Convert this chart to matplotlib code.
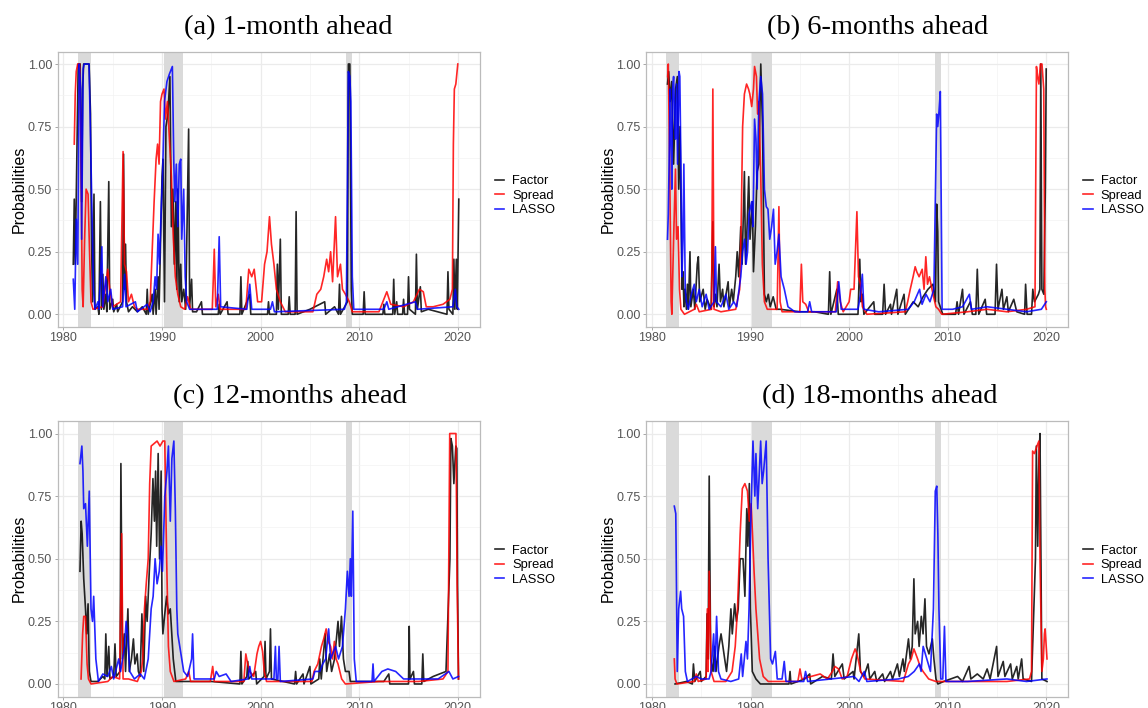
"""
Recession probabilities at four forecast horizons (Factor / Spread / LASSO).
ggplot-style theme_bw panels drawn with plain matplotlib.
"""

import matplotlib.pyplot as plt

plt.rcParams["font.family"] = ["Liberation Sans", "DejaVu Sans"]

# --- data: (year, probability) vertices ------------------------------------
A_FACTOR = [
    (1981.0, 0.2), (1981.1, 0.46), (1981.2, 0.2), (1981.35, 0.6), (1981.5, 1.0),
    (1981.7, 1.0), (1981.85, 0.45), (1981.95, 0.9), (1982.05, 1.0), (1982.6, 1.0),
    (1982.75, 0.8), (1982.85, 0.3), (1982.95, 0.05), (1983.1, 0.48), (1983.2, 0.02),
    (1983.5, 0.03), (1983.6, 0.0), (1983.75, 0.45), (1983.85, 0.02), (1984.0, 0.16),
    (1984.1, 0.02), (1984.3, 0.08), (1984.4, 0.01), (1984.6, 0.53), (1984.7, 0.02),
    (1985.0, 0.06), (1985.1, 0.01), (1985.4, 0.04), (1985.5, 0.01), (1986.0, 0.05),
    (1986.1, 0.64), (1986.2, 0.1), (1986.3, 0.28), (1986.4, 0.05), (1986.6, 0.01),
    (1987.0, 0.03), (1987.5, 0.01), (1988.0, 0.03), (1988.4, 0.0), (1988.5, 0.1),
    (1988.6, 0.0), (1989.0, 0.08), (1989.1, 0.0), (1989.3, 0.1), (1989.4, 0.0),
    (1989.6, 0.15), (1989.7, 0.02), (1990.0, 0.55), (1990.1, 0.62), (1990.25, 0.05),
    (1990.4, 0.75), (1990.6, 0.8), (1990.8, 0.95), (1990.95, 0.35), (1991.1, 0.5),
    (1991.25, 0.2), (1991.4, 0.45), (1991.5, 0.1), (1991.6, 0.5), (1991.75, 0.05),
    (1991.9, 0.2), (1992.0, 0.05), (1992.2, 0.1), (1992.4, 0.02), (1992.7, 0.74),
    (1992.8, 0.03), (1993.0, 0.14), (1993.1, 0.01), (1993.5, 0.01), (1994.0, 0.05),
    (1994.1, 0.0), (1995.7, 0.0), (1995.8, 0.04), (1995.9, 0.0), (1996.6, 0.05),
    (1996.7, 0.0), (1997.9, 0.0), (1998.0, 0.15), (1998.1, 0.0), (1998.9, 0.08),
    (1999.0, 0.0), (2000.7, 0.0), (2000.8, 0.05), (2000.9, 0.0), (2001.6, 0.0),
    (2001.7, 0.2), (2001.8, 0.02), (2002.0, 0.3), (2002.1, 0.0), (2002.8, 0.0),
    (2002.9, 0.07), (2003.0, 0.0), (2003.5, 0.0), (2003.6, 0.41), (2003.7, 0.0),
    (2005.0, 0.02), (2006.5, 0.05), (2006.6, 0.0), (2007.5, 0.03), (2007.9, 0.0),
    (2008.0, 0.12), (2008.1, 0.0), (2008.8, 0.05), (2008.9, 1.0), (2009.05, 1.0),
    (2009.2, 0.1), (2009.3, 0.0), (2010.4, 0.0), (2010.5, 0.09), (2010.6, 0.0),
    (2012.4, 0.0), (2012.5, 0.04), (2012.6, 0.0), (2013.4, 0.0), (2013.5, 0.14),
    (2013.6, 0.0), (2013.8, 0.05), (2013.9, 0.0), (2014.4, 0.0), (2014.5, 0.06),
    (2014.6, 0.0), (2014.9, 0.0), (2015.0, 0.15), (2015.1, 0.02), (2015.7, 0.0),
    (2015.8, 0.24), (2015.9, 0.02), (2016.2, 0.11), (2016.3, 0.01), (2017.0, 0.02),
    (2018.9, 0.0), (2019.0, 0.17), (2019.1, 0.02), (2019.5, 0.0), (2019.6, 0.22),
    (2019.7, 0.02), (2019.85, 0.22), (2019.95, 0.02), (2020.1, 0.46),
]
A_SPREAD = [
    (1981.1, 0.68), (1981.2, 0.88), (1981.3, 0.97), (1981.45, 1.0), (1981.65, 1.0),
    (1981.8, 0.6), (1981.9, 0.1), (1982.0, 0.03), (1982.15, 0.3), (1982.3, 0.5),
    (1982.5, 0.48), (1982.65, 0.25), (1982.8, 0.05), (1983.0, 0.02), (1984.0, 0.03),
    (1984.3, 0.12), (1984.5, 0.18), (1984.7, 0.1), (1985.0, 0.03), (1985.8, 0.05),
    (1986.05, 0.65), (1986.2, 0.2), (1986.4, 0.17), (1986.6, 0.05), (1986.9, 0.08),
    (1987.2, 0.03), (1987.5, 0.02), (1988.5, 0.02), (1988.8, 0.05), (1989.0, 0.25),
    (1989.2, 0.45), (1989.4, 0.62), (1989.55, 0.68), (1989.7, 0.6), (1989.85, 0.85),
    (1990.0, 0.88), (1990.2, 0.9), (1990.35, 0.78), (1990.55, 0.85), (1990.75, 0.7),
    (1990.95, 0.55), (1991.15, 0.3), (1991.35, 0.15), (1991.6, 0.08), (1991.9, 0.03),
    (1992.3, 0.02), (1992.6, 0.07), (1992.9, 0.02), (1995.1, 0.02), (1995.3, 0.26),
    (1995.45, 0.03), (1995.7, 0.08), (1995.9, 0.02), (1998.5, 0.02), (1998.8, 0.18),
    (1999.1, 0.15), (1999.35, 0.18), (1999.7, 0.05), (2000.1, 0.05), (2000.4, 0.2),
    (2000.65, 0.25), (2000.9, 0.39), (2001.1, 0.28), (2001.35, 0.2), (2001.6, 0.1),
    (2002.0, 0.05), (2002.5, 0.01), (2005.3, 0.01), (2005.7, 0.08), (2006.1, 0.1),
    (2006.4, 0.15), (2006.7, 0.22), (2006.9, 0.17), (2007.1, 0.25), (2007.3, 0.13),
    (2007.6, 0.39), (2007.8, 0.15), (2008.1, 0.2), (2008.3, 0.1), (2008.6, 0.08),
    (2009.0, 0.05), (2009.3, 0.01), (2012.0, 0.01), (2012.4, 0.05), (2012.8, 0.09),
    (2013.2, 0.04), (2014.5, 0.03), (2015.5, 0.05), (2016.1, 0.1), (2016.5, 0.09),
    (2016.8, 0.03), (2017.5, 0.03), (2018.5, 0.04), (2019.2, 0.06), (2019.45, 0.1),
    (2019.55, 0.68), (2019.65, 0.9), (2019.8, 0.92), (2020.0, 1.0),
]
A_LASSO = [
    (1981.0, 0.14), (1981.15, 0.02), (1981.3, 0.38), (1981.45, 0.2), (1981.6, 1.0),
    (1981.75, 0.9), (1981.85, 0.3), (1982.0, 0.98), (1982.1, 1.0), (1982.6, 1.0),
    (1982.75, 0.7), (1982.9, 0.4), (1983.05, 0.1), (1983.2, 0.02), (1983.5, 0.05),
    (1983.6, 0.02), (1983.9, 0.27), (1984.0, 0.03), (1984.3, 0.15), (1984.5, 0.05),
    (1984.8, 0.1), (1985.0, 0.02), (1986.0, 0.03), (1986.2, 0.16), (1986.35, 0.03),
    (1987.3, 0.05), (1987.5, 0.01), (1988.5, 0.04), (1988.8, 0.01), (1989.1, 0.05),
    (1989.3, 0.15), (1989.45, 0.1), (1989.6, 0.32), (1989.75, 0.2), (1989.9, 0.4),
    (1990.05, 0.55), (1990.25, 0.85), (1990.5, 0.93), (1990.75, 0.96), (1991.05, 0.99),
    (1991.2, 0.6), (1991.3, 0.45), (1991.45, 0.6), (1991.6, 0.35), (1991.75, 0.6),
    (1991.9, 0.62), (1992.0, 0.3), (1992.2, 0.5), (1992.35, 0.15), (1992.5, 0.05),
    (1992.8, 0.02), (1995.6, 0.02), (1995.8, 0.31), (1995.95, 0.03), (1998.6, 0.02),
    (1998.9, 0.12), (1999.1, 0.02), (2001.0, 0.02), (2001.2, 0.05), (2001.4, 0.01),
    (2008.5, 0.02), (2008.7, 0.05), (2008.9, 0.97), (2009.05, 0.95), (2009.15, 0.85),
    (2009.3, 0.15), (2009.45, 0.02), (2012.5, 0.02), (2012.8, 0.05), (2013.0, 0.02),
    (2015.7, 0.05), (2015.9, 0.02), (2019.5, 0.03), (2019.75, 0.1), (2019.9, 0.03),
    (2020.1, 0.02),
]

B_FACTOR = [
    (1981.58, 0.92), (1981.7, 0.97), (1981.85, 0.85), (1982.0, 0.93), (1982.2, 0.6),
    (1982.4, 0.9), (1982.58, 0.95), (1982.72, 0.5), (1982.85, 0.75), (1983.05, 0.1),
    (1983.15, 0.17), (1983.25, 0.03), (1983.35, 0.1), (1983.5, 0.02), (1983.6, 0.12),
    (1983.7, 0.02), (1983.86, 0.25), (1983.95, 0.03), (1984.2, 0.1), (1984.35, 0.02),
    (1984.6, 0.2), (1984.71, 0.23), (1984.85, 0.05), (1985.2, 0.1), (1985.4, 0.02),
    (1985.6, 0.06), (1986.0, 0.02), (1986.18, 0.37), (1986.3, 0.03), (1986.44, 0.08),
    (1986.6, 0.03), (1986.81, 0.2), (1986.95, 0.05), (1987.17, 0.1), (1987.3, 0.03),
    (1987.73, 0.13), (1987.85, 0.03), (1988.09, 0.1), (1988.25, 0.05), (1988.5, 0.15),
    (1988.65, 0.25), (1988.8, 0.15), (1989.01, 0.35), (1989.15, 0.2), (1989.38, 0.57),
    (1989.5, 0.2), (1989.65, 0.35), (1989.82, 0.55), (1989.95, 0.3), (1990.19, 0.45),
    (1990.3, 0.17), (1990.5, 0.35), (1990.67, 0.57), (1990.85, 0.6), (1991.04, 1.0),
    (1991.22, 0.75), (1991.41, 0.08), (1991.6, 0.05), (1991.8, 0.08), (1992.0, 0.03),
    (1992.3, 0.07), (1992.6, 0.02), (1993.0, 0.02), (1995.0, 0.01), (1996.5, 0.01),
    (1997.9, 0.0), (1998.03, 0.17), (1998.15, 0.0), (1998.76, 0.1), (1998.9, 0.0),
    (2000.9, 0.0), (2001.08, 0.22), (2001.2, 0.05), (2001.34, 0.08), (2001.5, 0.0),
    (2002.5, 0.05), (2002.6, 0.0), (2003.4, 0.0), (2003.55, 0.12), (2003.7, 0.0),
    (2004.2, 0.04), (2004.3, 0.0), (2004.83, 0.1), (2004.95, 0.0), (2005.57, 0.08),
    (2005.7, 0.0), (2006.5, 0.05), (2007.0, 0.03), (2007.5, 0.07), (2008.0, 0.1),
    (2008.5, 0.12), (2008.75, 0.05), (2008.88, 0.44), (2008.99, 0.33), (2009.07, 0.05),
    (2009.5, 0.0), (2010.8, 0.0), (2010.95, 0.05), (2011.1, 0.0), (2011.5, 0.1),
    (2011.65, 0.0), (2012.3, 0.05), (2012.5, 0.0), (2012.85, 0.0), (2013.0, 0.18),
    (2013.15, 0.0), (2013.8, 0.06), (2013.95, 0.0), (2014.8, 0.0), (2014.95, 0.2),
    (2015.1, 0.02), (2015.5, 0.1), (2015.65, 0.02), (2016.0, 0.07), (2016.15, 0.01),
    (2016.7, 0.06), (2017.0, 0.01), (2017.8, 0.0), (2017.9, 0.12), (2018.05, 0.0),
    (2018.5, 0.0), (2018.63, 0.1), (2018.8, 0.05), (2019.2, 0.08), (2019.35, 0.1),
    (2019.44, 1.0), (2019.55, 0.1), (2019.75, 0.08), (2019.9, 0.5), (2019.99, 0.98),
]
B_SPREAD = [
    (1981.6, 0.95), (1981.66, 1.0), (1981.8, 0.6), (1981.95, 0.05), (1982.02, 0.0),
    (1982.2, 0.3), (1982.39, 0.58), (1982.5, 0.3), (1982.65, 0.35), (1982.8, 0.1),
    (1982.94, 0.02), (1983.3, 0.0), (1984.3, 0.02), (1984.5, 0.04), (1984.8, 0.01),
    (1986.05, 0.02), (1986.18, 0.9), (1986.3, 0.02), (1987.0, 0.01), (1988.5, 0.02),
    (1988.9, 0.1), (1989.05, 0.35), (1989.2, 0.75), (1989.38, 0.88), (1989.6, 0.92),
    (1989.8, 0.9), (1989.93, 0.88), (1990.12, 0.83), (1990.3, 0.9), (1990.41, 0.99),
    (1990.6, 0.95), (1990.72, 0.8), (1990.85, 0.85), (1991.04, 0.55), (1991.2, 0.2),
    (1991.41, 0.05), (1991.7, 0.02), (1992.7, 0.02), (1992.88, 0.43), (1993.0, 0.05),
    (1993.2, 0.01), (1995.0, 0.01), (1995.16, 0.2), (1995.3, 0.05), (1995.6, 0.04),
    (1995.9, 0.01), (1998.6, 0.01), (1998.84, 0.13), (1999.1, 0.05), (1999.4, 0.01),
    (2000.0, 0.05), (2000.16, 0.1), (2000.5, 0.1), (2000.79, 0.41), (2000.95, 0.15),
    (2001.15, 0.12), (2001.35, 0.03), (2001.8, 0.0), (2005.7, 0.01), (2005.94, 0.05),
    (2006.2, 0.1), (2006.49, 0.15), (2006.7, 0.19), (2006.86, 0.17), (2007.1, 0.15),
    (2007.41, 0.18), (2007.6, 0.1), (2007.78, 0.23), (2007.95, 0.12), (2008.15, 0.15),
    (2008.51, 0.08), (2008.8, 0.03), (2009.07, 0.02), (2009.4, 0.0), (2012.0, 0.01),
    (2014.0, 0.02), (2016.0, 0.01), (2018.0, 0.02), (2018.85, 0.03), (2019.0, 0.99),
    (2019.12, 0.95), (2019.25, 0.92), (2019.4, 1.0), (2019.56, 1.0), (2019.74, 0.9),
    (2019.85, 0.1), (2019.93, 0.03), (2020.0, 0.02),
]
B_LASSO = [
    (1981.58, 0.3), (1981.66, 0.4), (1981.77, 0.67), (1981.85, 0.9), (1981.91, 0.75),
    (1982.02, 0.5), (1982.1, 0.9), (1982.2, 0.95), (1982.3, 0.8), (1982.39, 0.7),
    (1982.5, 0.92), (1982.6, 0.6), (1982.75, 0.97), (1982.83, 0.95), (1982.94, 0.6),
    (1983.05, 0.15), (1983.15, 0.3), (1983.24, 0.6), (1983.38, 0.1), (1983.5, 0.05),
    (1983.68, 0.02), (1984.0, 0.08), (1984.3, 0.12), (1984.5, 0.05), (1984.8, 0.1),
    (1985.1, 0.03), (1985.5, 0.08), (1985.8, 0.02), (1986.3, 0.05), (1986.44, 0.27),
    (1986.55, 0.05), (1987.0, 0.03), (1987.5, 0.08), (1987.8, 0.02), (1988.3, 0.05),
    (1988.6, 0.03), (1989.01, 0.15), (1989.2, 0.25), (1989.4, 0.3), (1989.55, 0.2),
    (1989.7, 0.25), (1989.85, 0.4), (1990.12, 0.45), (1990.25, 0.35), (1990.41, 0.78),
    (1990.55, 0.7), (1990.67, 0.5), (1990.85, 0.85), (1991.04, 0.95), (1991.22, 0.88),
    (1991.41, 0.5), (1991.6, 0.43), (1991.77, 0.42), (1991.95, 0.3), (1992.14, 0.35),
    (1992.33, 0.42), (1992.5, 0.2), (1992.69, 0.25), (1992.88, 0.32), (1993.1, 0.15),
    (1993.43, 0.1), (1993.8, 0.03), (1994.5, 0.01), (1995.8, 0.01), (1996.0, 0.05),
    (1996.2, 0.01), (1998.7, 0.01), (1998.95, 0.13), (1999.2, 0.02), (2000.9, 0.02),
    (2001.15, 0.08), (2001.34, 0.16), (2001.5, 0.02), (2003.0, 0.01), (2006.0, 0.02),
    (2006.6, 0.05), (2007.15, 0.1), (2007.4, 0.04), (2007.8, 0.08), (2008.2, 0.05),
    (2008.6, 0.1), (2008.88, 0.8), (2008.99, 0.75), (2009.1, 0.8), (2009.25, 0.89),
    (2009.43, 0.02), (2010.5, 0.02), (2011.5, 0.03), (2012.2, 0.08), (2012.4, 0.02),
    (2014.0, 0.03), (2016.0, 0.02), (2018.0, 0.01), (2019.5, 0.02), (2020.0, 0.05),
]

C_FACTOR = [
    (1981.68, 0.45), (1981.8, 0.65), (1981.9, 0.6), (1982.06, 0.42), (1982.24, 0.3),
    (1982.36, 0.2), (1982.5, 0.32), (1982.62, 0.05), (1982.8, 0.01), (1983.5, 0.01),
    (1984.0, 0.03), (1984.2, 0.02), (1984.3, 0.2), (1984.42, 0.03), (1984.6, 0.15),
    (1984.72, 0.02), (1985.1, 0.03), (1985.23, 0.16), (1985.35, 0.03), (1985.75, 0.05),
    (1985.83, 0.88), (1985.98, 0.1), (1986.17, 0.2), (1986.3, 0.05), (1986.54, 0.3),
    (1986.68, 0.05), (1986.9, 0.1), (1987.1, 0.18), (1987.25, 0.08), (1987.48, 0.12),
    (1987.6, 0.05), (1987.78, 0.03), (1987.96, 0.28), (1988.15, 0.05), (1988.34, 0.35),
    (1988.49, 0.25), (1988.71, 0.45), (1988.9, 0.6), (1989.08, 0.82), (1989.23, 0.65),
    (1989.35, 0.85), (1989.46, 0.55), (1989.61, 0.92), (1989.75, 0.5), (1989.91, 0.85),
    (1990.0, 0.3), (1990.09, 0.2), (1990.28, 0.28), (1990.47, 0.35), (1990.65, 0.28),
    (1990.84, 0.3), (1991.14, 0.1), (1991.4, 0.01), (1993.0, 0.01), (1995.0, 0.01),
    (1997.9, 0.0), (1998.0, 0.13), (1998.1, 0.0), (1998.6, 0.03), (1998.7, 0.09),
    (1998.8, 0.02), (1999.5, 0.05), (1999.6, 0.0), (2000.35, 0.03), (2000.45, 0.17),
    (2000.55, 0.02), (2000.9, 0.05), (2001.0, 0.22), (2001.1, 0.02), (2003.45, 0.0),
    (2003.55, 0.05), (2003.65, 0.0), (2004.3, 0.04), (2004.4, 0.0), (2005.0, 0.07),
    (2005.1, 0.0), (2005.9, 0.02), (2006.0, 0.1), (2006.15, 0.02), (2006.55, 0.2),
    (2006.7, 0.05), (2007.0, 0.12), (2007.2, 0.05), (2007.5, 0.1), (2007.85, 0.25),
    (2008.0, 0.15), (2008.2, 0.27), (2008.4, 0.1), (2008.6, 0.05), (2008.97, 0.05),
    (2009.1, 0.01), (2012.5, 0.01), (2013.0, 0.04), (2013.1, 0.0), (2015.0, 0.0),
    (2015.07, 0.23), (2015.15, 0.02), (2015.5, 0.05), (2015.6, 0.0), (2016.35, 0.0),
    (2016.45, 0.12), (2016.55, 0.01), (2017.5, 0.03), (2018.8, 0.05), (2019.2, 0.5),
    (2019.3, 0.98), (2019.45, 0.95), (2019.6, 0.8), (2019.8, 0.95), (2019.9, 0.94),
    (2019.97, 0.4), (2020.07, 0.02),
]
C_SPREAD = [
    (1981.79, 0.02), (1981.95, 0.2), (1982.06, 0.27), (1982.24, 0.27), (1982.4, 0.08),
    (1982.54, 0.02), (1982.8, 0.0), (1984.5, 0.01), (1985.0, 0.03), (1985.7, 0.02),
    (1985.91, 0.6), (1986.05, 0.02), (1986.6, 0.02), (1987.5, 0.01), (1987.9, 0.05),
    (1988.04, 0.1), (1988.22, 0.3), (1988.4, 0.4), (1988.6, 0.5), (1988.75, 0.8),
    (1988.9, 0.95), (1989.2, 0.96), (1989.5, 0.97), (1989.8, 0.95), (1990.09, 0.97),
    (1990.28, 0.97), (1990.47, 0.5), (1990.65, 0.15), (1990.84, 0.05), (1991.21, 0.01),
    (1992.4, 0.02), (1992.71, 0.05), (1992.9, 0.01), (1994.9, 0.01), (1995.14, 0.07),
    (1995.3, 0.01), (1998.3, 0.01), (1998.5, 0.12), (1998.69, 0.08), (1998.9, 0.05),
    (1999.3, 0.03), (1999.63, 0.12), (1999.81, 0.15), (2000.0, 0.17), (2000.2, 0.13),
    (2000.37, 0.05), (2000.6, 0.01), (2005.2, 0.01), (2005.42, 0.05), (2005.8, 0.08),
    (2006.17, 0.15), (2006.4, 0.18), (2006.65, 0.22), (2006.85, 0.17), (2007.1, 0.15),
    (2007.3, 0.1), (2007.48, 0.17), (2007.65, 0.1), (2007.85, 0.08), (2008.22, 0.02),
    (2008.6, 0.0), (2012.0, 0.01), (2016.0, 0.01), (2018.5, 0.02), (2019.0, 0.05),
    (2019.18, 1.0), (2019.81, 1.0), (2019.93, 0.4), (2020.07, 0.02),
]
C_LASSO = [
    (1981.68, 0.88), (1981.87, 0.95), (1981.98, 0.85), (1982.06, 0.7), (1982.24, 0.72),
    (1982.43, 0.55), (1982.62, 0.77), (1982.8, 0.3), (1982.95, 0.25), (1983.07, 0.35),
    (1983.29, 0.1), (1983.55, 0.01), (1984.0, 0.04), (1984.5, 0.03), (1984.86, 0.07),
    (1985.1, 0.02), (1985.61, 0.1), (1985.8, 0.05), (1986.2, 0.15), (1986.36, 0.25),
    (1986.5, 0.2), (1986.73, 0.05), (1987.2, 0.02), (1987.8, 0.04), (1988.2, 0.02),
    (1988.6, 0.1), (1988.9, 0.3), (1989.1, 0.35), (1989.3, 0.5), (1989.5, 0.4),
    (1989.72, 0.45), (1989.9, 0.55), (1990.05, 0.45), (1990.28, 0.75), (1990.5, 0.85),
    (1990.65, 0.95), (1990.84, 0.65), (1991.0, 0.9), (1991.2, 0.97), (1991.35, 0.7),
    (1991.5, 0.3), (1991.6, 0.2), (1991.8, 0.15), (1992.0, 0.1), (1992.2, 0.05),
    (1992.6, 0.03), (1993.0, 0.1), (1993.1, 0.2), (1993.25, 0.02), (1995.3, 0.02),
    (1995.5, 0.05), (1995.8, 0.03), (1996.5, 0.04), (1997.0, 0.01), (1998.7, 0.02),
    (1998.9, 0.07), (1999.1, 0.02), (2001.35, 0.02), (2001.5, 0.15), (2001.6, 0.02),
    (2001.75, 0.02), (2001.87, 0.15), (2002.0, 0.01), (2005.3, 0.02), (2005.5, 0.05),
    (2006.0, 0.05), (2006.3, 0.08), (2006.6, 0.1), (2006.9, 0.22), (2007.1, 0.1),
    (2007.6, 0.15), (2007.9, 0.1), (2008.3, 0.15), (2008.6, 0.3), (2008.8, 0.45),
    (2008.97, 0.35), (2009.1, 0.5), (2009.2, 0.35), (2009.35, 0.69), (2009.5, 0.1),
    (2009.7, 0.01), (2011.3, 0.01), (2011.4, 0.08), (2011.5, 0.01), (2012.3, 0.05),
    (2012.9, 0.06), (2013.7, 0.05), (2014.5, 0.02), (2016.0, 0.02), (2018.0, 0.02),
    (2019.1, 0.05), (2019.5, 0.02), (2020.07, 0.03),
]

D_FACTOR = [
    (1982.35, 0.0), (1983.5, 0.01), (1984.1, 0.0), (1984.21, 0.08), (1984.35, 0.01),
    (1984.9, 0.05), (1985.0, 0.01), (1985.5, 0.03), (1985.59, 0.28), (1985.7, 0.1),
    (1985.81, 0.83), (1985.96, 0.1), (1986.2, 0.05), (1986.37, 0.15), (1986.5, 0.05),
    (1986.8, 0.15), (1987.01, 0.2), (1987.2, 0.15), (1987.38, 0.1), (1987.57, 0.05),
    (1987.8, 0.15), (1988.01, 0.3), (1988.15, 0.2), (1988.39, 0.32), (1988.57, 0.25),
    (1988.75, 0.3), (1988.95, 0.5), (1989.24, 0.5), (1989.43, 0.35), (1989.62, 0.7),
    (1989.73, 0.55), (1989.88, 0.8), (1989.99, 0.3), (1990.18, 0.05), (1990.55, 0.02),
    (1991.0, 0.0), (1993.9, 0.0), (1994.01, 0.05), (1994.1, 0.0), (1995.5, 0.02),
    (1996.0, 0.04), (1996.1, 0.0), (1997.3, 0.03), (1998.2, 0.02), (1998.37, 0.12),
    (1998.55, 0.03), (1999.31, 0.08), (1999.5, 0.02), (2000.4, 0.05), (2000.5, 0.02),
    (2000.98, 0.2), (2001.15, 0.05), (2001.5, 0.03), (2001.92, 0.08), (2002.1, 0.02),
    (2002.6, 0.05), (2002.8, 0.01), (2003.4, 0.04), (2003.6, 0.01), (2004.2, 0.05),
    (2004.4, 0.02), (2004.9, 0.08), (2005.1, 0.03), (2005.46, 0.1), (2005.6, 0.05),
    (2006.02, 0.18), (2006.2, 0.1), (2006.4, 0.15), (2006.57, 0.42), (2006.7, 0.2),
    (2006.95, 0.25), (2007.1, 0.15), (2007.32, 0.27), (2007.5, 0.2), (2007.69, 0.34),
    (2007.85, 0.15), (2008.1, 0.12), (2008.44, 0.18), (2008.6, 0.1), (2008.81, 0.02),
    (2009.0, 0.0), (2009.6, 0.01), (2011.0, 0.03), (2011.5, 0.01), (2012.17, 0.07),
    (2012.35, 0.02), (2013.0, 0.04), (2013.6, 0.02), (2014.0, 0.06), (2014.3, 0.02),
    (2014.96, 0.15), (2015.1, 0.03), (2015.63, 0.09), (2015.8, 0.03), (2016.38, 0.08),
    (2016.55, 0.02), (2017.0, 0.07), (2017.15, 0.02), (2017.5, 0.1), (2017.65, 0.02),
    (2018.5, 0.01), (2018.9, 0.5), (2018.99, 0.95), (2019.13, 0.55), (2019.25, 0.9),
    (2019.36, 1.0), (2019.55, 0.02), (2020.07, 0.01),
]
D_SPREAD = [
    (1982.27, 0.1), (1982.35, 0.02), (1982.53, 0.0), (1984.3, 0.01), (1984.5, 0.04),
    (1984.7, 0.01), (1985.5, 0.02), (1985.62, 0.3), (1985.7, 0.05), (1985.81, 0.45),
    (1986.0, 0.05), (1986.3, 0.01), (1987.5, 0.01), (1988.13, 0.05), (1988.45, 0.15),
    (1988.68, 0.3), (1988.95, 0.6), (1989.17, 0.78), (1989.43, 0.8), (1989.69, 0.77),
    (1989.88, 0.65), (1990.06, 0.72), (1990.2, 0.6), (1990.36, 0.45), (1990.55, 0.3),
    (1990.92, 0.1), (1991.29, 0.03), (1991.8, 0.01), (1994.8, 0.01), (1995.02, 0.06),
    (1995.2, 0.02), (1997.07, 0.04), (1997.8, 0.02), (1998.3, 0.05), (1998.56, 0.07),
    (1998.93, 0.06), (1999.3, 0.02), (1999.8, 0.03), (2000.24, 0.1), (2000.61, 0.14),
    (2000.8, 0.12), (2001.17, 0.05), (2001.6, 0.02), (2005.5, 0.01), (2006.02, 0.08),
    (2006.3, 0.1), (2006.57, 0.14), (2006.95, 0.1), (2007.2, 0.07), (2007.5, 0.05),
    (2008.07, 0.02), (2008.8, 0.01), (2012.0, 0.01), (2016.0, 0.01), (2018.3, 0.02),
    (2018.5, 0.05), (2018.61, 0.93), (2018.8, 0.92), (2019.05, 0.95), (2019.25, 0.97),
    (2019.36, 0.5), (2019.55, 0.05), (2019.7, 0.1), (2019.81, 0.2), (2019.88, 0.22),
    (2020.07, 0.1),
]
D_LASSO = [
    (1982.27, 0.71), (1982.42, 0.68), (1982.46, 0.52), (1982.57, 0.05), (1982.72, 0.3),
    (1982.91, 0.37), (1983.02, 0.3), (1983.21, 0.27), (1983.39, 0.05), (1983.6, 0.01),
    (1984.5, 0.03), (1985.0, 0.02), (1985.8, 0.02), (1986.0, 0.05), (1986.26, 0.2),
    (1986.4, 0.05), (1986.56, 0.27), (1986.75, 0.05), (1987.0, 0.02), (1988.0, 0.01),
    (1988.8, 0.02), (1989.06, 0.12), (1989.2, 0.03), (1989.54, 0.17), (1989.69, 0.1),
    (1989.85, 0.3), (1990.06, 0.7), (1990.25, 0.97), (1990.44, 0.75), (1990.55, 0.92),
    (1990.73, 0.7), (1991.03, 0.97), (1991.18, 0.8), (1991.33, 0.85), (1991.59, 0.97),
    (1991.78, 0.5), (1992.04, 0.1), (1992.23, 0.08), (1992.52, 0.13), (1992.71, 0.02),
    (1993.2, 0.02), (1993.42, 0.09), (1993.6, 0.01), (1995.4, 0.01), (1995.58, 0.05),
    (1995.8, 0.01), (2000.5, 0.03), (2001.0, 0.01), (2001.54, 0.05), (2001.8, 0.01),
    (2005.0, 0.02), (2006.0, 0.03), (2006.6, 0.05), (2007.13, 0.08), (2007.3, 0.05),
    (2007.51, 0.15), (2007.88, 0.1), (2008.25, 0.05), (2008.55, 0.3), (2008.74, 0.77),
    (2008.89, 0.79), (2009.0, 0.6), (2009.11, 0.3), (2009.3, 0.02), (2009.5, 0.02),
    (2009.67, 0.23), (2009.82, 0.01), (2012.0, 0.01), (2016.0, 0.02), (2018.0, 0.01),
    (2020.07, 0.02),
]

TITLES = ["(a) 1-month ahead", "(b) 6-months ahead",
          "(c) 12-months ahead", "(d) 18-months ahead"]
SERIES_NAMES = ["Factor", "Spread", "LASSO"]
RECESSIONS = [(1981.45, 1982.75), (1990.2, 1992.15), (2008.7, 2009.3)]
X_TICKS = [1980, 1990, 2000, 2010, 2020]
Y_TICKS = [0.0, 0.25, 0.5, 0.75, 1.0]

PANELS = [
    (A_FACTOR, A_SPREAD, A_LASSO),
    (B_FACTOR, B_SPREAD, B_LASSO),
    (C_FACTOR, C_SPREAD, C_LASSO),
    (D_FACTOR, D_SPREAD, D_LASSO),
]

# --- layout (pixel boxes of each plot frame in the 1148x708 image) ---------
W, H = 1148, 708
COLORS = ["black", "red", "blue"]
FRAMES = [(57.5, 51.5, 479.5, 326.8), (646, 51.5, 1068, 326.8),
          (57.5, 421, 479.5, 696.5), (646, 421, 1068, 696.5)]
TITLE_XY = [(288, 28), (878, 28), (290, 397), (880, 397)]


def px_rect(left, top, right, bottom):
    """Pixel box (origin top-left) -> figure-fraction axes rect."""
    return [left / W, 1 - bottom / H, (right - left) / W, (bottom - top) / H]


fig = plt.figure(figsize=(W / 100, H / 100), dpi=100)

for series, frame, title, (tx, ty) in zip(PANELS, FRAMES, TITLES, TITLE_XY):
    ax = fig.add_axes(px_rect(*frame))
    ax.set_xlim(1979.4, 2022.2)
    ax.set_ylim(-0.05, 1.05)

    ax.set_xticks(X_TICKS)
    ax.set_xticks([x + 5 for x in X_TICKS[:-1]], minor=True)
    ax.set_yticks(Y_TICKS)
    ax.set_yticklabels([f"{v:.2f}" for v in Y_TICKS])
    ax.set_yticks([v + 0.125 for v in Y_TICKS[:-1]], minor=True)
    ax.grid(which="major", color="#ebebeb", linewidth=0.9)
    ax.grid(which="minor", color="#f3f3f3", linewidth=0.5)
    ax.set_axisbelow(True)
    ax.tick_params(which="major", length=2.5, width=0.6, color="#999999",
                   labelsize=9, labelcolor="#555555", pad=1.5)
    ax.tick_params(which="minor", length=0)
    for sp in ax.spines.values():
        sp.set_color("#bbbbbb")
        sp.set_linewidth(0.9)

    # shaded recession periods
    for lo, hi in RECESSIONS:
        ax.axvspan(lo, hi, color="#dadada", linewidth=0, zorder=1)

    for pts, name, color in zip(series, SERIES_NAMES, COLORS):
        xs = [p[0] for p in pts]
        ys = [p[1] for p in pts]
        ax.plot(xs, ys, color=color, linewidth=1.2, alpha=0.85,
                label=name, zorder=2)

    ax.set_ylabel("Probabilities", fontsize=11.5, labelpad=0.5)
    ax.legend(loc="center left", bbox_to_anchor=(1.036, 0.476), frameon=False,
              fontsize=9.3, handlelength=0.75, handletextpad=0.6,
              labelspacing=0.2, borderpad=0, borderaxespad=0)

    fig.text(tx / W, 1 - ty / H, title, ha="center", va="center",
             fontsize=20.5, family="Liberation Serif")

fig.savefig("out.png", dpi=100)
